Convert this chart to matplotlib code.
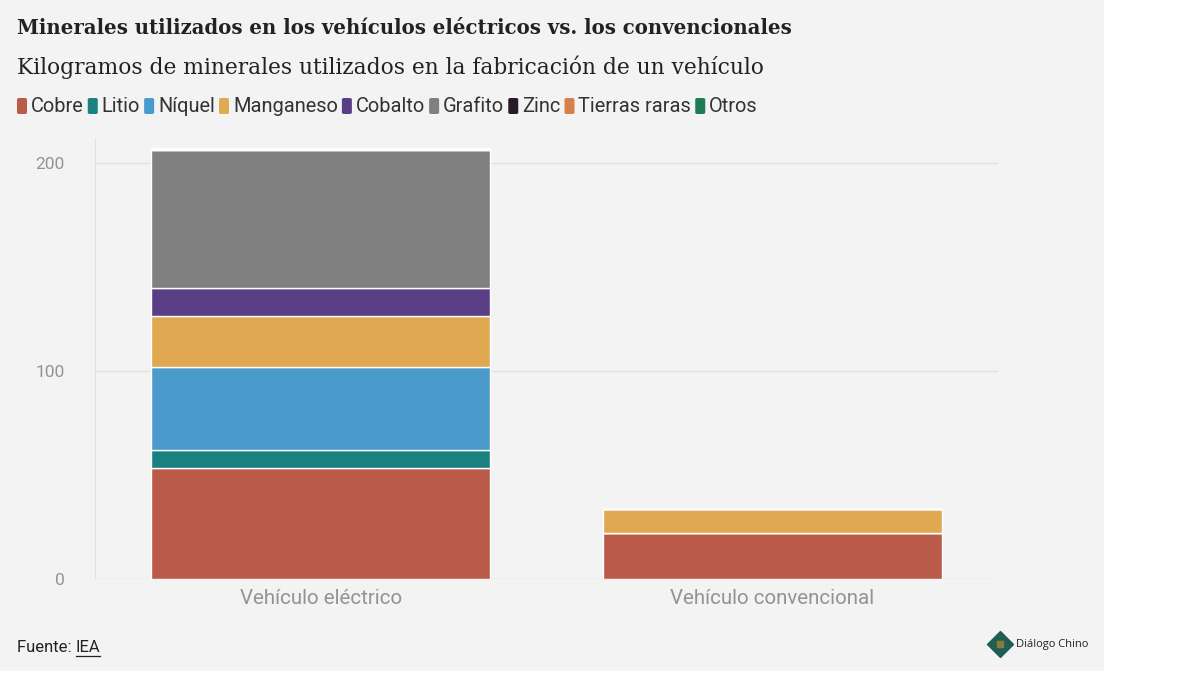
import numpy as np
import matplotlib.pyplot as plt
from matplotlib.patches import Rectangle, FancyBboxPatch

# kg of minerals per vehicle (IEA)
vehicles = ['Vehículo eléctrico', 'Vehículo convencional']
minerals = ['Cobre', 'Litio', 'Níquel', 'Manganeso', 'Cobalto', 'Grafito',
            'Zinc', 'Tierras raras', 'Otros']
ev_kg = [53.2, 8.9, 39.9, 24.5, 13.3, 66.3, 0.1, 0.5, 0.3]
conv_kg = [22.3, 0.0, 0.0, 11.2, 0.0, 0.0, 0.0, 0.0, 0.3]
colors = ['#BA5A48', '#1B8080', '#4A9BCB', '#E0A851', '#5A3F86', '#808080',
          '#2A1A28', '#D9804A', '#1E7A50']

bg = '#F3F3F3'
fig = plt.figure(figsize=(12, 6.82), dpi=100)
fig.patch.set_facecolor('white')
# grey card behind everything
fig.patches.append(Rectangle((0, 1 - 671 / 682), 1104 / 1200, 671 / 682,
                             transform=fig.transFigure, facecolor=bg,
                             edgecolor='none', zorder=-10))

ax = fig.add_axes([95 / 1200, 1 - 579 / 682, 903 / 1200, (579 - 138) / 682])
ax.set_facecolor(bg)

x = np.arange(len(vehicles))
bottom = np.zeros(len(vehicles))
for name, a, b, c in zip(minerals, ev_kg, conv_kg, colors):
    vals = np.array([a, b])
    ax.bar(x, vals, width=0.75, bottom=bottom, color=c, edgecolor='white',
           linewidth=1.0, zorder=3)
    bottom += vals

ax.set_xlim(-0.5, 1.5)
ax.set_ylim(0, 212)
ax.set_yticks([0, 100, 200])
ax.yaxis.grid(True, color='#E2E2E2', linewidth=1, zorder=0)
for s in ['top', 'right', 'bottom']:
    ax.spines[s].set_visible(False)
ax.spines['left'].set_color('#E2E2E2')
ax.tick_params(axis='y', length=0, pad=22, labelsize=12.5, labelcolor='#939393')
ax.tick_params(axis='x', length=0, pad=7, labelsize=14.8, labelcolor='#939393')
ax.set_xticks(x)
ax.set_xticklabels(vehicles)
for lab in ax.get_xticklabels() + ax.get_yticklabels():
    lab.set_family('Roboto')

# titles
fig.text(17 / 1200, 1 - 28 / 682, 'Minerales utilizados en los vehículos eléctricos vs. los convencionales',
         family='DejaVu Serif', weight='bold', fontsize=14.25, color='#222222',
         va='center', ha='left')
fig.text(17 / 1200, 1 - 67 / 682, 'Kilogramos de minerales utilizados en la fabricación de un vehículo',
         family='DejaVu Serif', fontsize=15.7, color='#222222',
         va='center', ha='left')

# legend drawn by hand
fig.canvas.draw()
renderer = fig.canvas.get_renderer()
xpos = 17
ly = 1 - 106 / 682
for name, c in zip(minerals, colors):
    fig.patches.append(FancyBboxPatch((xpos / 1200, ly - 8 / 682), 10 / 1200, 16 / 682,
                                      boxstyle='round,pad=0,rounding_size=0.002',
                                      transform=fig.transFigure, facecolor=c,
                                      edgecolor='none'))
    t = fig.text((xpos + 14) / 1200, ly, name, family='Roboto', fontsize=14.4,
                 color='#333333', va='center', ha='left')
    w = t.get_window_extent(renderer).width
    xpos += 14 + w + 4

# footer
t = fig.text(17 / 1200, 1 - 647 / 682, 'Fuente: ', family='Roboto', fontsize=12,
             color='#222222', va='center', ha='left')
w = t.get_window_extent(renderer).width
t2 = fig.text((17 + w) / 1200, 1 - 647 / 682, 'IEA', family='Roboto', fontsize=12,
              color='#222222', va='center', ha='left')
w2 = t2.get_window_extent(renderer).width
fig.lines.append(plt.Line2D([(17 + w) / 1200, (17 + w + w2) / 1200],
                            [1 - 656 / 682, 1 - 656 / 682],
                            transform=fig.transFigure, color='#222222', linewidth=0.9))
fig.lines.append(plt.Line2D([1000 / 1200], [1 - 644 / 682], marker='D', markersize=13,
                            color='#1F5E55', transform=fig.transFigure))
fig.lines.append(plt.Line2D([1000 / 1200], [1 - 644 / 682], marker='s', markersize=5,
                            color='#8A7A3A', transform=fig.transFigure))
fig.text(1016 / 1200, 1 - 644 / 682, 'Diálogo Chino', family='Open Sans', fontsize=8,
         color='#222222', va='center', ha='left')

fig.savefig('out.png', dpi=100, facecolor='white')
